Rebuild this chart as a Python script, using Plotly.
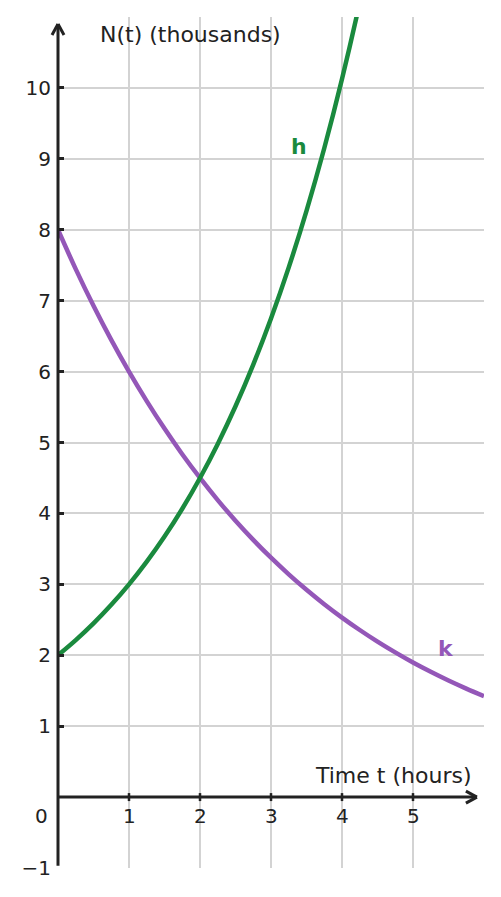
import plotly.graph_objects as go

# values (thousands)
t_h = [0, 0.25, 0.5, 0.75, 1, 1.25, 1.5, 1.75, 2, 2.25, 2.5, 2.75, 3, 3.25, 3.5, 3.75, 4, 4.25, 4.5]
h_vals = [2.000, 2.213, 2.449, 2.711, 3.000, 3.320, 3.674, 4.066, 4.500, 4.980, 5.511, 6.099,
          6.750, 7.470, 8.267, 9.149, 10.125, 11.205, 12.400]

t_k = [0, 0.25, 0.5, 0.75, 1, 1.25, 1.5, 1.75, 2, 2.25, 2.5, 2.75, 3, 3.25, 3.5, 3.75, 4, 4.25, 4.5, 4.75, 5, 5.25, 5.5, 5.75, 6]
k_vals = [8.000, 7.445, 6.928, 6.447, 6.000, 5.584, 5.196, 4.835, 4.500, 4.188, 3.897, 3.627, 3.375,
          3.141, 2.923, 2.720, 2.531, 2.356, 2.192, 2.040, 1.898, 1.767, 1.644, 1.530, 1.424]

x_ticks = [1, 2, 3, 4, 5]
x_tick_labels = ["1", "2", "3", "4", "5"]
y_ticks = [-1, 1, 2, 3, 4, 5, 6, 7, 8, 9, 10]
y_tick_labels = ["\u22121", "1", "2", "3", "4", "5", "6", "7", "8", "9", "10"]

GREEN = "#1a8a3e"
PURPLE = "#9457b8"
INK = "#222222"
GRID = "#d3d3d3"
FONT = "DejaVu Sans"

fig = go.Figure()
fig.add_trace(go.Scatter(x=t_k, y=k_vals, mode="lines", line=dict(color=PURPLE, width=4.5, shape="spline"),
                         showlegend=False, hoverinfo="skip"))
fig.add_trace(go.Scatter(x=t_h, y=h_vals, mode="lines", line=dict(color=GREEN, width=4.5, shape="spline"),
                         showlegend=False, hoverinfo="skip"))

# axes drawn through the origin; the vertical one uses paper x so it is not clipped at the left edge
fig.add_shape(type="line", xref="paper", yref="y", x0=0, x1=0, y0=-0.97, y1=10.9,
              line=dict(color=INK, width=3), layer="above")
fig.add_shape(type="line", x0=0, x1=5.9, y0=0, y1=0, line=dict(color=INK, width=3), layer="above")
# arrow chevrons (pixel sized, anchored at tips)
for dx, dy in [(-6, -11), (6, -11)]:
    fig.add_shape(type="line", xref="paper", yref="y", xsizemode="pixel", ysizemode="pixel",
                  xanchor=0, yanchor=10.9, x0=0, y0=0, x1=dx, y1=dy,
                  line=dict(color=INK, width=3), layer="above")
for dx, dy in [(-11, -6), (-11, 6)]:
    fig.add_shape(type="line", xsizemode="pixel", ysizemode="pixel", xanchor=5.9, yanchor=0,
                  x0=0, y0=0, x1=dx, y1=dy, line=dict(color=INK, width=3), layer="above")
# x ticks crossing the axis
for t in x_ticks:
    fig.add_shape(type="line", ysizemode="pixel", yanchor=0, x0=t, x1=t, y0=-4, y1=4,
                  line=dict(color=INK, width=2.5), layer="above")

for t, lab in zip(x_ticks, x_tick_labels):
    fig.add_annotation(x=t, y=0, text=lab, showarrow=False, yshift=-19,
                       font=dict(family=FONT, size=20, color=INK))
fig.add_annotation(x=0, y=0, text="0", showarrow=False, xshift=-17, yshift=-19,
                   font=dict(family=FONT, size=20, color=INK))

fig.add_annotation(x=0.56, y=10.76, text="N(t) (thousands)", showarrow=False, xanchor="left",
                   font=dict(family=FONT, size=22, color=INK))
fig.add_annotation(x=5.85, y=0.30, text="Time t (hours)", showarrow=False, xanchor="right",
                   font=dict(family=FONT, size=22, color=INK))
fig.add_annotation(x=3.39, y=9.18, text="<b>h</b>", showarrow=False,
                   font=dict(family=FONT, size=22, color=GREEN))
fig.add_annotation(x=5.46, y=2.10, text="<b>k</b>", showarrow=False,
                   font=dict(family=FONT, size=22, color=PURPLE))

fig.update_xaxes(range=[0, 6], tickvals=x_ticks, showticklabels=False, showgrid=True,
                 gridcolor=GRID, gridwidth=1.5, zeroline=False, showline=False, ticks="")
fig.update_yaxes(range=[-1, 11.0], tickvals=y_ticks, ticktext=y_tick_labels, showgrid=True,
                 gridcolor=GRID, gridwidth=1.5, zeroline=False, showline=False,
                 ticks="inside", ticklen=6, tickwidth=2.5, tickcolor=INK, ticklabelstandoff=6,
                 tickfont=dict(family=FONT, size=20, color=INK))
# page body adds an 8px margin, so the figure is 8px smaller than the window
fig.update_layout(width=493, height=889, margin=dict(l=50, r=17, t=9, b=29),
                  plot_bgcolor="white", paper_bgcolor="white")

fig.write_html("out.html")
